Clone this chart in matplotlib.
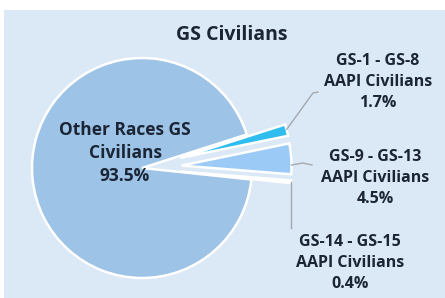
import numpy as np
import matplotlib
matplotlib.use("Agg")
import matplotlib.pyplot as plt
from matplotlib.patches import Rectangle

# ---- data ----
categories = ["GS-14 - GS-15\nAAPI Civilians", "GS-9 - GS-13\nAAPI Civilians",
              "GS-1 - GS-8\nAAPI Civilians", "Other Races GS\nCivilians"]
values = [0.4, 4.5, 1.7, 93.5]
value_labels = ["0.4%", "4.5%", "1.7%", "93.5%"]
title = "GS Civilians"

colors = ["#c9dcf2", "#9ccaf6", "#2ebdee", "#9dc3e6"]
explode = [0.36, 0.36, 0.36, 0.0]

W, H = 445, 298
R_PX = 110.0
CX, CY = 142.0, 168.0

def px(x, y):
    return ((x - CX) / R_PX, (CY - y) / R_PX)

fig = plt.figure(figsize=(W / 100, H / 100), dpi=100)
fig.patch.set_facecolor("white")
fig.add_artist(Rectangle((4 / W, 0), 1, (H - 10) / H, transform=fig.transFigure,
                         facecolor="#dbe8f5", edgecolor="none", zorder=0))

ax = fig.add_axes([0, 0, 1, 1])
ax.patch.set_alpha(0)
wedges, _ = ax.pie(values, colors=colors, explode=explode, startangle=-6,
                   counterclock=True, radius=1.0,
                   wedgeprops=dict(edgecolor="white", linewidth=1.8))
ax.set_aspect("auto")
ax.set_xlim(-CX / R_PX, (W - CX) / R_PX)
ax.set_ylim(-(H - CY) / R_PX, CY / R_PX)
ax.axis("off")

fam = ["Open Sans", "DejaVu Sans"]
tc = "#1b2535"
fs = 11.5

# title
tx, ty = px(232, 35)
ax.text(tx, ty, title, ha="center", va="center", fontsize=14, fontweight="bold",
        color=tc, family=fam)

# main label
mx, my = px(125, 153)
ax.text(mx, my, categories[3] + "\n" + value_labels[3], ha="center", va="center",
        fontsize=12.5, fontweight="bold", color=tc, family=fam, linespacing=1.35)

def outer_point(w, frac):
    ang = np.deg2rad(w.theta1 + frac * (w.theta2 - w.theta1))
    return (w.center[0] + w.r * np.cos(ang), w.center[1] + w.r * np.sin(ang))

lc = "#a3a9b0"
# GS-1 - GS-8 (index 2)
p0 = outer_point(wedges[2], 0.55)
p1 = px(313, 93); p2 = px(318, 92)
ax.plot([p0[0], p1[0], p2[0]], [p0[1], p1[1], p2[1]], color=lc, lw=1.0)
lx, ly = px(378, 82)
ax.text(lx, ly, categories[2] + "\n" + value_labels[2], ha="center", va="center",
        fontsize=fs, fontweight="bold", color=tc, family=fam, linespacing=1.45)

# GS-9 - GS-13 (index 1)
p0 = outer_point(wedges[1], 0.3)
p1 = px(303, 163); p2 = px(312, 165)
ax.plot([p0[0], p1[0], p2[0]], [p0[1], p1[1], p2[1]], color=lc, lw=1.0)
lx, ly = px(375, 178)
ax.text(lx, ly, categories[1] + "\n" + value_labels[1], ha="center", va="center",
        fontsize=fs, fontweight="bold", color=tc, family=fam, linespacing=1.45)

# GS-14 - GS-15 (index 0)
p0 = outer_point(wedges[0], 0.5)
p1 = (p0[0], px(0, 228)[1])
ax.plot([p0[0], p1[0]], [p0[1], p1[1]], color=lc, lw=1.0)
lx, ly = px(350, 263)
ax.text(lx, ly, categories[0] + "\n" + value_labels[0], ha="center", va="center",
        fontsize=fs, fontweight="bold", color=tc, family=fam, linespacing=1.45)

fig.savefig("out.png", dpi=100)
